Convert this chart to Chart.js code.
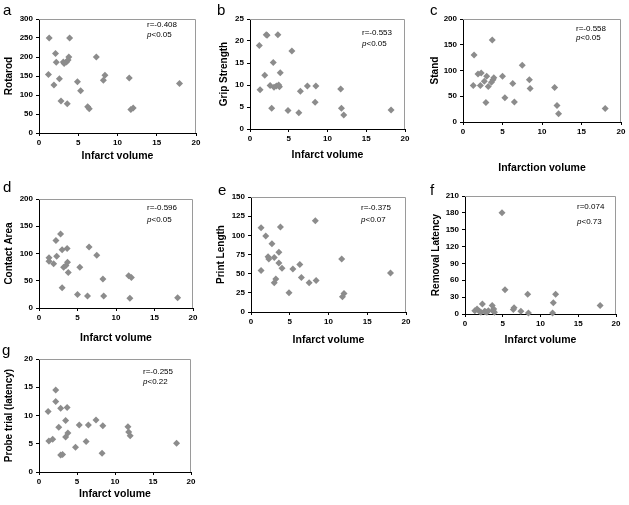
<!DOCTYPE html>
<html>
<head>
<meta charset="utf-8">
<script src="https://cdn.jsdelivr.net/npm/chart.js@4.4.0/dist/chart.umd.min.js"></script>
<style>
  body { margin: 0; background: #fff; width: 629px; height: 505px; overflow: hidden; position: relative;
         font-family: "Liberation Sans", Arial, sans-serif; }
  canvas { position: absolute; }
  .letter { position: absolute; font-size: 15px; line-height: 15px; color: #000; }
  .stat { position: absolute; font-size: 8px; line-height: 10px; white-space: nowrap; color: #000; }
</style>
</head>
<body>
<script>
// values, one pair of arrays per panel
const rotarodX = [1.3, 1.2, 2.1, 2.2, 1.9, 2.6, 2.8, 3.1, 3.2, 3.5, 3.7, 3.8, 3.9, 3.6, 4.9, 5.3, 6.2, 6.4, 7.3, 8.2, 8.4, 11.5, 11.7, 12.0, 17.9];
const rotarodY = [250, 154, 209, 186, 126, 143, 84, 187, 183, 187, 192, 200, 250, 77, 135, 111, 69, 64, 200, 139, 152, 145, 62, 66, 130];

const gripX = [1.2, 1.3, 2.1, 2.2, 1.9, 2.6, 3.0, 2.8, 3.1, 3.4, 3.7, 3.8, 3.6, 3.9, 4.9, 5.4, 6.3, 6.5, 7.4, 8.4, 8.5, 11.7, 11.8, 12.1, 18.2];
const gripY = [19.0, 8.9, 21.4, 21.3, 12.2, 9.9, 15.1, 4.7, 9.5, 9.8, 10.0, 9.6, 21.4, 12.8, 4.2, 17.7, 3.7, 8.6, 9.8, 6.1, 9.8, 9.1, 4.7, 3.2, 4.3];

const standX = [1.4, 1.3, 1.9, 2.3, 2.2, 2.7, 3.0, 2.9, 3.2, 3.6, 3.8, 3.9, 3.7, 5.0, 5.3, 6.3, 6.5, 7.5, 8.4, 8.5, 11.6, 11.9, 12.1, 18.0];
const standY = [130, 71, 93, 95, 71, 79, 89, 38, 69, 77, 82, 86, 159, 89, 47, 75, 39, 110, 82, 65, 67, 32, 16, 26];

const contactX = [1.3, 1.3, 1.9, 2.3, 2.2, 2.8, 3.0, 3.0, 3.2, 3.5, 3.65, 3.7, 3.8, 5.0, 5.3, 6.3, 6.5, 7.5, 8.3, 8.4, 11.65, 12.0, 11.8, 18.0];
const contactY = [92, 86, 81, 95, 124, 136, 107, 37, 75, 78, 109, 84, 65, 25, 75, 22, 112, 97, 53, 22, 59, 56, 18, 19];

const printX = [1.3, 1.3, 1.9, 2.2, 2.3, 2.7, 3.0, 3.0, 3.2, 3.6, 3.6, 3.8, 4.0, 4.9, 5.4, 6.3, 6.5, 7.5, 8.3, 8.4, 11.7, 11.8, 12.0, 18.0];
const printY = [110, 54, 99, 72, 69, 89, 38, 71, 43, 78, 64, 111, 57, 25, 56, 62, 45, 38, 119, 41, 69, 20, 24, 51];

const removalX = [4.9, 5.3, 8.3, 12.0, 11.7, 17.9, 2.3, 3.6, 1.3, 1.6, 1.9, 2.1, 2.6, 2.7, 2.9, 3.1, 3.7, 3.8, 3.9, 6.4, 6.5, 7.4, 8.4, 11.6];
const removalY = [180, 43, 35, 35, 20, 15, 18, 15, 6, 9, 5, 3, 5, 4, 3, 6, 6, 9, 3, 8, 11, 5, 2, 2];

const probeX = [1.2, 1.3, 1.8, 2.2, 2.2, 2.6, 2.85, 2.85, 3.1, 3.5, 3.5, 3.7, 3.8, 4.8, 5.3, 6.2, 6.5, 7.5, 8.3, 8.4, 11.7, 11.8, 12.0, 18.1];
const probeY = [10.7, 5.5, 5.8, 14.5, 12.5, 7.9, 11.3, 3.0, 3.1, 9.1, 6.2, 11.4, 6.9, 4.4, 8.3, 5.4, 8.3, 9.2, 3.3, 8.2, 8.0, 7.1, 6.4, 5.1];

const stats = [
  ["r=-0.408", "<0.05"], ["r=-0.553", "<0.05"], ["r=-0.558", "<0.05"],
  ["r=-0.596", "<0.05"], ["r=-0.375", "<0.07"], ["r=0.074", "<0.73"], ["r=-0.255", "<0.22"]
];

const FONT = '"Liberation Sans", Arial, sans-serif';

// layout: plot box [left, top, right, bottom], y title centre x, x title centre y,
// letter [x, baseline], stat [x, line1 centre, line2 centre]
const panels = [
  { letter: "a", xs: rotarodX, ys: rotarodY, yTitle: "Rotarod", xTitle: "Infarct volume", yMax: 300, yStep: 50,
    box: [39, 19, 196, 133], yTitleX: 9, xTitleY: 156, lpos: [3, 15], spos: [147, 25, 35], stat: stats[0] },
  { letter: "b", xs: gripX, ys: gripY, yTitle: "Grip Strength", xTitle: "Infarct volume", yMax: 25, yStep: 5,
    box: [250, 19, 405, 129], yTitleX: 224, xTitleY: 155, lpos: [217, 15], spos: [362, 33, 44], stat: stats[1] },
  { letter: "c", xs: standX, ys: standY, yTitle: "Stand", xTitle: "Infarction volume", yMax: 200, yStep: 50,
    box: [463, 19, 621, 122], yTitleX: 435, xTitleY: 168, lpos: [430, 15], spos: [576, 29, 38], stat: stats[2] },
  { letter: "d", xs: contactX, ys: contactY, yTitle: "Contact Area", xTitle: "Infarct volume", yMax: 200, yStep: 50,
    box: [39, 199, 193, 308], yTitleX: 9, xTitleY: 338, lpos: [3, 192], spos: [147, 208, 220], stat: stats[3] },
  { letter: "e", xs: printX, ys: printY, yTitle: "Print Length", xTitle: "Infarct volume", yMax: 150, yStep: 25,
    box: [251, 197, 406, 312], yTitleX: 221, xTitleY: 340, lpos: [218, 195], spos: [361, 208, 220], stat: stats[4] },
  { letter: "f", xs: removalX, ys: removalY, yTitle: "Removal Latency", xTitle: "Infarct volume", yMax: 210, yStep: 30,
    box: [465, 196, 616, 314], yTitleX: 436, xTitleY: 340, lpos: [430, 195], spos: [577, 207, 222], stat: stats[5] },
  { letter: "g", xs: probeX, ys: probeY, yTitle: "Probe trial (latency)", xTitle: "Infarct volume", yMax: 20, yStep: 5,
    box: [39, 359, 191, 472], yTitleX: 9, xTitleY: 494, lpos: [2, 355], spos: [143, 372, 382], stat: stats[6] }
];

const frame = {
  id: "frame",
  beforeDatasetsDraw(chart) {
    const { ctx, chartArea: a } = chart;
    ctx.save();
    ctx.strokeStyle = "#9a9a9a";
    ctx.lineWidth = 1;
    ctx.beginPath();
    ctx.moveTo(a.left, a.top + 0.5);
    ctx.lineTo(a.right - 0.5, a.top + 0.5);
    ctx.lineTo(a.right - 0.5, a.bottom);
    ctx.stroke();
    ctx.restore();
  }
};

function addText(cls, html, left, top) {
  const d = document.createElement("div");
  d.className = cls;
  d.innerHTML = html;
  d.style.left = left + "px";
  d.style.top = top + "px";
  document.body.appendChild(d);
}

function makePanel(pn) {
  const [L, T, R, B] = pn.box;
  const yW = L - pn.yTitleX + 6;
  const cLeft = Math.max(0, L - yW - 3);
  const padL = L - yW - cLeft;
  const padR = Math.min(10, 629 - R);
  const padT = 10;
  const xH = Math.round(pn.xTitleY - B + 6);
  const padB = 2;

  const canvas = document.createElement("canvas");
  canvas.width = R + padR - cLeft;
  canvas.height = B - T + padT + xH + padB;
  canvas.style.left = cLeft + "px";
  canvas.style.top = (T - padT) + "px";
  document.body.appendChild(canvas);

  const tickFont = { family: FONT, size: 8, weight: "bold" };

  new Chart(canvas.getContext("2d"), {
    type: "scatter",
    data: {
      datasets: [{
        data: pn.xs.map((v, i) => ({ x: v, y: pn.ys[i] })),
        pointStyle: "rectRot",
        pointRadius: 3.5,
        backgroundColor: "#8c8c8c",
        borderWidth: 0,
        clip: false
      }]
    },
    options: {
      responsive: false,
      animation: false,
      devicePixelRatio: 1,
      layout: { padding: { left: padL, right: padR, top: padT, bottom: padB } },
      plugins: { legend: { display: false }, tooltip: { enabled: false } },
      scales: {
        x: {
          type: "linear", min: 0, max: 20,
          ticks: { stepSize: 5, padding: 2, font: tickFont, color: "#000", maxRotation: 0, autoSkip: false },
          grid: { drawOnChartArea: false, drawTicks: true, tickLength: 3, color: "#000" },
          border: { color: "#000", width: 1 },
          title: { display: true, text: pn.xTitle, color: "#000", padding: 0,
                   font: { family: FONT, size: 10.5, weight: "bold" } },
          afterFit(s) { s.height = xH; s.paddingLeft = 0; s.paddingRight = 0; }
        },
        y: {
          type: "linear", min: 0, max: pn.yMax,
          ticks: { stepSize: pn.yStep, padding: 3, font: tickFont, color: "#000", autoSkip: false },
          grid: { drawOnChartArea: false, drawTicks: true, tickLength: 3, color: "#000" },
          border: { color: "#000", width: 1 },
          title: { display: true, text: pn.yTitle, color: "#000", padding: 0,
                   font: { family: FONT, size: 10, weight: "bold" } },
          afterFit(s) { s.width = yW; s.paddingTop = 0; s.paddingBottom = 0; }
        }
      }
    },
    plugins: [frame]
  });

  addText("letter", pn.letter, pn.lpos[0], pn.lpos[1] - 12.7);
  addText("stat", pn.stat[0], pn.spos[0], pn.spos[1] - 5);
  addText("stat", "<i>p</i>" + pn.stat[1].replace("<", "&lt;"), pn.spos[0], pn.spos[2] - 5);
}

panels.forEach(makePanel);
</script>
</body>
</html>
